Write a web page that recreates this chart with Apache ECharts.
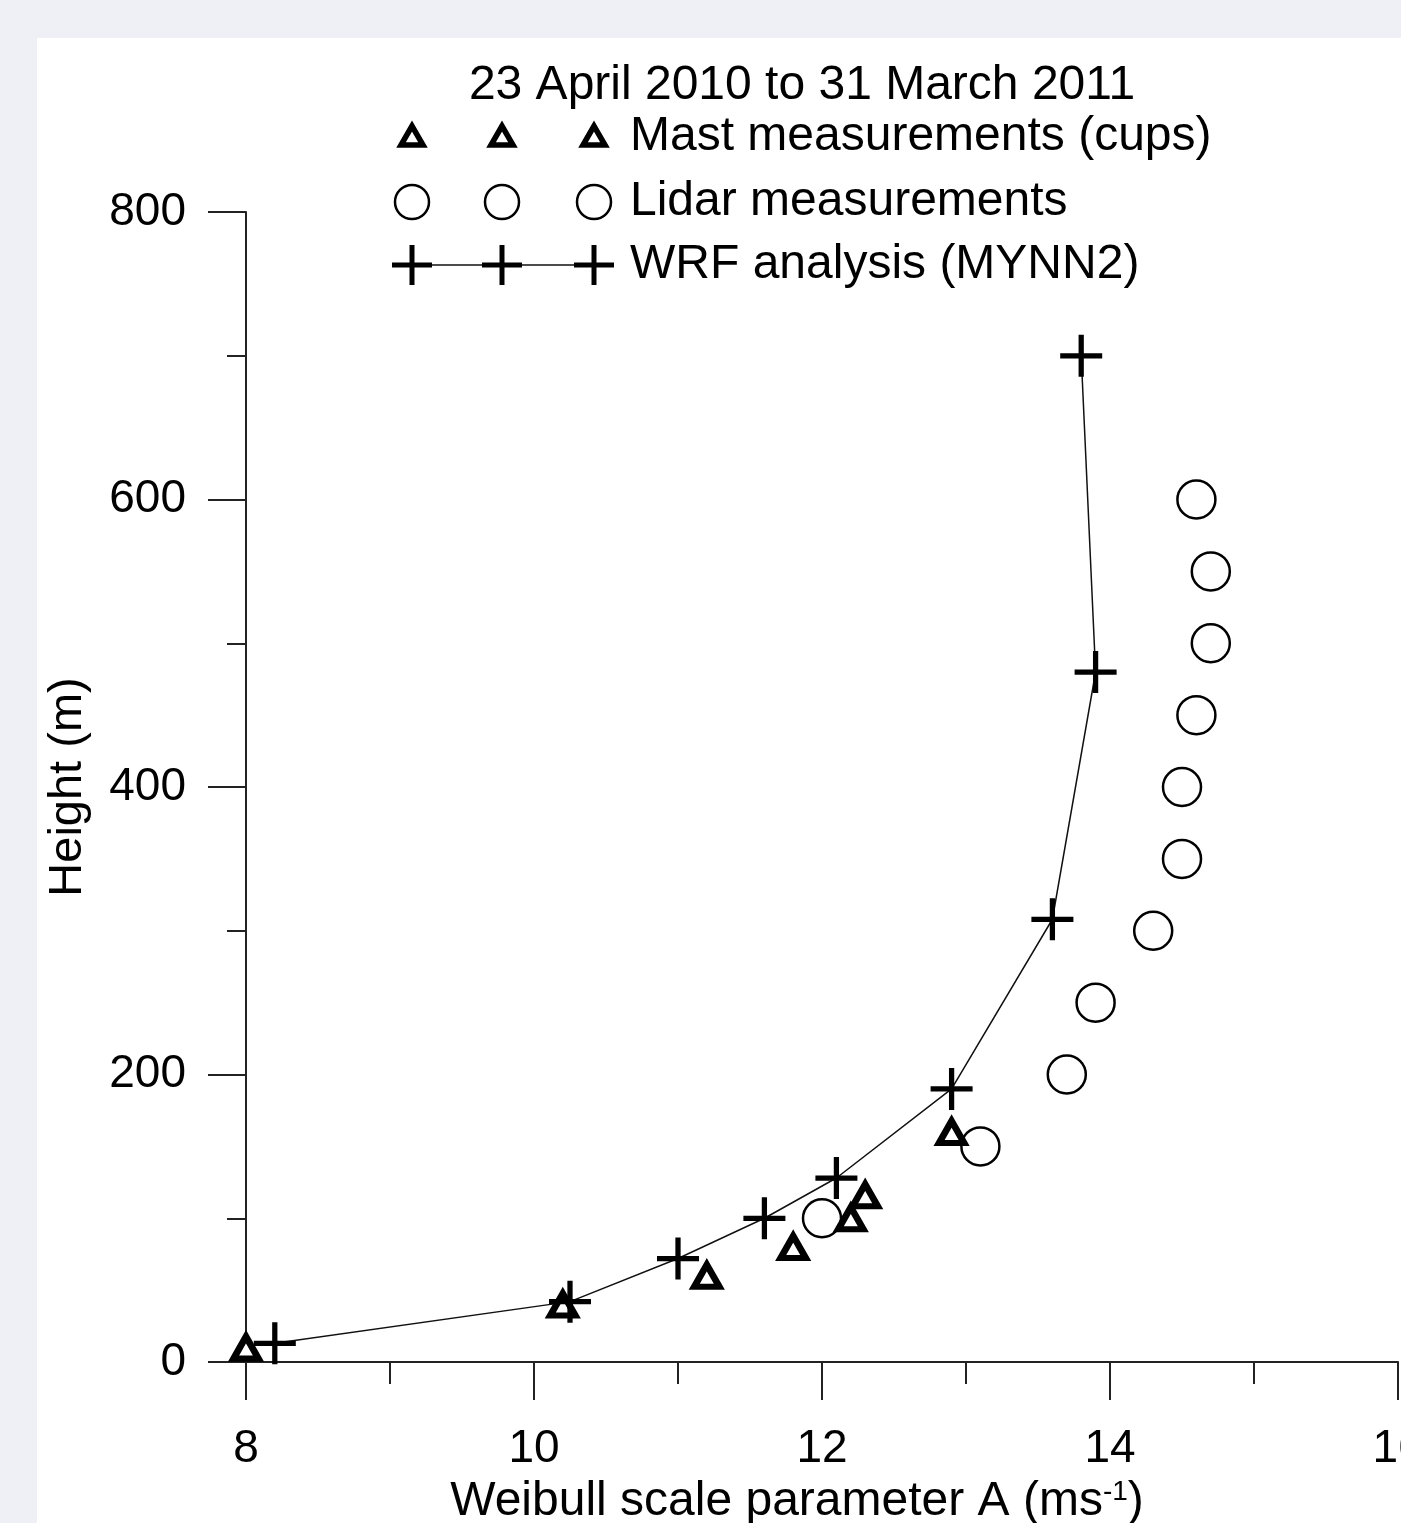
<!DOCTYPE html>
<html>
<head>
<meta charset="utf-8">
<title>Weibull scale parameter profile</title>
<script src="https://cdn.jsdelivr.net/npm/echarts@6/dist/echarts.min.js"></script>
<style>
	html, body { margin: 0; padding: 0; width: 1401px; height: 1523px; overflow: hidden; background: #eef0f5; }
	#panel { position: absolute; left: 37px; top: 38px; right: 0; bottom: 0; background: #ffffff; }
	#chart { position: absolute; left: 0; top: 0; width: 1401px; height: 1523px; }
</style>
</head>
<body>
<div id="panel"></div>
<div id="chart"></div>
<script>
	// values
	const mastA = [8.0, 10.2, 11.2, 11.8, 12.2, 12.3, 12.9];
	const mastH = [10, 40, 60, 80, 100, 116, 160];

	const lidarA = [12.0, 13.1, 13.7, 13.9, 14.3, 14.5, 14.5, 14.6, 14.7, 14.7, 14.6];
	const lidarH = [100, 150, 200, 250, 300, 350, 400, 450, 500, 550, 600];

	const wrfA = [8.2, 10.25, 11.0, 11.6, 12.1, 12.9, 13.6, 13.9, 13.8];
	const wrfH = [13, 42, 72, 100, 128, 190, 308, 480, 700];

	const titleText = '23 April 2010 to 31 March 2011';
	const legendNames = ['Mast measurements (cups)', 'Lidar measurements', 'WRF analysis (MYNN2)'];

	const font = '"Liberation Sans", Arial, sans-serif';
	const crossPath = 'path://M8.75,0H11.25V8.75H20V11.25H11.25V20H8.75V11.25H0V8.75H8.75Z';

	function pairs(xs, ys) {
		return xs.map((x, i) => [x, ys[i]]);
	}

	// legend drawn by hand: three symbols per entry, as in the original
	const legX = [412, 502, 594];
	const legY = [137, 202, 265];
	let legend = [];
	legend.push({
		type: 'line', shape: {x1: legX[0], y1: legY[2], x2: legX[2], y2: legY[2]},
		style: {stroke: '#111', lineWidth: 1.5}
	});
	legX.forEach(x => {
		legend.push({
			type: 'polygon',
			shape: {points: [[x, legY[0] - 11], [x - 11, legY[0] + 8], [x + 11, legY[0] + 8]]},
			style: {fill: '#fff', stroke: '#000', lineWidth: 5.5, lineJoin: 'miter'}
		});
		legend.push({
			type: 'circle', shape: {cx: x, cy: legY[1], r: 17},
			style: {fill: '#fff', stroke: '#000', lineWidth: 2.5}
		});
		legend.push({type: 'rect', shape: {x: x - 20, y: legY[2] - 2.5, width: 40, height: 5}, style: {fill: '#000'}});
		legend.push({type: 'rect', shape: {x: x - 2.5, y: legY[2] - 20, width: 5, height: 40}, style: {fill: '#000'}});
	});
	legendNames.forEach((name, i) => {
		legend.push({
			type: 'text', x: 630, y: legY[i],
			style: {text: name, fill: '#000', font: '48px ' + font, textVerticalAlign: 'middle'}
		});
	});

	let chart = echarts.init(document.getElementById('chart'));
	const option = {
		animation: false,
		backgroundColor: 'transparent',
		textStyle: {fontFamily: font, color: '#000'},
		title: {
			text: titleText,
			left: 797,
			top: 57,
			textAlign: 'center',
			textStyle: {fontSize: 48, fontWeight: 'normal', color: '#000', fontFamily: font}
		},
		graphic: legend,
		grid: {left: 246, top: 212, width: 1152, height: 1150, containLabel: false, outerBoundsMode: 'none'},
		xAxis: {
			type: 'value',
			min: 8, max: 16, interval: 2,
			name: 'Weibull scale parameter A (ms{sup|-1})',
			nameLocation: 'middle',
			nameGap: 116,
			nameTextStyle: {
				fontSize: 48, color: '#000', fontFamily: font,
				padding: [0, 50, 0, 0],
				rich: {sup: {fontSize: 28, verticalAlign: 'top', padding: [0, 0, 20, 0], color: '#000', fontFamily: font}}
			},
			axisLine: {show: true, onZero: false, lineStyle: {color: '#222', width: 2}},
			axisTick: {show: true, inside: false, length: 38, lineStyle: {color: '#222', width: 2}},
			minorTick: {show: true, splitNumber: 2, length: 22, lineStyle: {color: '#222', width: 2}},
			axisLabel: {fontSize: 46, color: '#000', margin: 64, fontFamily: font},
			splitLine: {show: false}
		},
		yAxis: {
			type: 'value',
			min: 0, max: 800, interval: 200,
			name: 'Height (m)',
			nameLocation: 'middle',
			nameGap: 154,
			nameTextStyle: {fontSize: 47, color: '#000', fontFamily: font},
			axisLine: {show: true, onZero: false, lineStyle: {color: '#222', width: 2}},
			axisTick: {show: true, inside: false, length: 38, lineStyle: {color: '#222', width: 2}},
			minorTick: {show: true, splitNumber: 2, length: 19, lineStyle: {color: '#222', width: 2}},
			axisLabel: {fontSize: 46, color: '#000', margin: 60, fontFamily: font},
			splitLine: {show: false}
		},
		series: [
			{
				name: legendNames[1],
				type: 'scatter',
				data: pairs(lidarA, lidarH),
				symbol: 'circle',
				symbolSize: 38,
				itemStyle: {color: '#fff', borderColor: '#000', borderWidth: 2.5, opacity: 1},
				z: 2
			},
			{
				name: legendNames[0],
				type: 'scatter',
				data: pairs(mastA, mastH),
				symbol: 'triangle',
				symbolSize: [25, 22],
				itemStyle: {color: '#fff', borderColor: '#000', borderWidth: 6.5, borderJoin: 'miter', opacity: 1},
				z: 3
			},
			{
				name: legendNames[2],
				type: 'line',
				data: pairs(wrfA, wrfH),
				symbol: crossPath,
				symbolSize: 42,
				showAllSymbol: true,
				lineStyle: {color: '#111', width: 1.5},
				itemStyle: {color: '#000', borderWidth: 0},
				z: 4
			}
		]
	};
	chart.setOption(option);
	window.addEventListener('resize', () => {
		chart.resize();
	});
</script>
</body>
</html>
